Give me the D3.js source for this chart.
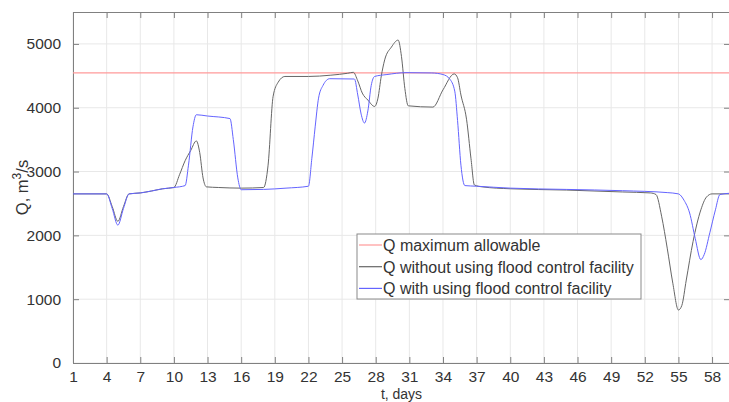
<!DOCTYPE html>
<html>
<head>
<meta charset="utf-8">
<script src="https://cdn.jsdelivr.net/npm/d3@7"></script>
<style>
  body { margin: 0; background: #fff; }
  svg { display: block; font-family: "Liberation Sans", Arial, sans-serif; }
</style>
</head>
<body>
<div class="flow-chart"></div>
<script>
// Discharge data (day, m3/s)
const qMaxAllowable = 4545;

const daysWithout = [1, 4, 4.5, 5, 5.5, 6, 7, 8, 9, 10, 10.5, 11, 11.5, 12, 12.3, 12.6, 12.9, 14, 16, 18,
  18.4, 18.85, 19.3, 19.9, 22, 24, 25.5, 26, 26.4, 26.8, 27.3, 27.9, 28.2, 28.5, 28.8, 29.4, 30, 30.3, 30.6, 30.9,
  33.1, 34, 35, 35.3, 35.6, 36.1, 36.5, 36.8, 37.5, 40, 45, 50, 52.5, 53, 53.5, 54, 54.5, 55, 55.3, 55.7,
  56.3, 57, 57.5, 58, 59.6];
const qWithout = [2650, 2650, 2450, 2220, 2450, 2650, 2665, 2695, 2730, 2750, 2950, 3170, 3330, 3480, 3300, 2900, 2760, 2750, 2740, 2750,
  3100, 4180, 4400, 4490, 4490, 4510, 4540, 4555, 4420, 4230, 4120, 4020, 4150, 4500, 4750, 4950, 5060, 4800, 4300, 4030,
  4010, 4280, 4530, 4470, 4200, 3820, 3200, 2790, 2760, 2730, 2710, 2680, 2665, 2640, 2300, 1800, 1250, 830, 900, 1300,
  1900, 2400, 2600, 2650, 2650];

const daysWith = [1, 4, 4.5, 5, 5.5, 6, 7, 8, 9, 10, 11, 11.3, 11.7, 12, 13, 15, 15.3, 15.7, 16, 18,
  20, 22, 22.3, 22.6, 22.9, 23.3, 23.9, 26.1, 26.4, 26.7, 27, 27.3, 27.6, 27.9, 29, 30.7, 33, 34, 34.6, 35.05,
  35.3, 35.6, 35.95, 37, 40, 45, 50, 54, 55, 55.5, 56, 56.5, 57, 57.3, 57.8, 58.3, 58.7, 59.6];
const qWith = [2650, 2650, 2420, 2160, 2420, 2650, 2665, 2695, 2730, 2750, 2780, 3100, 3700, 3890, 3870, 3830, 3500, 2900, 2715, 2720,
  2740, 2770, 3200, 3700, 4150, 4350, 4455, 4450, 4200, 3900, 3760, 3950, 4350, 4490, 4520, 4550, 4545, 4520, 4450, 4260,
  3800, 3100, 2780, 2770, 2740, 2720, 2700, 2670, 2650, 2550, 2350, 1950, 1620, 1700, 2040, 2400, 2640, 2660];

const xTicks = d3.range(1, 59, 3);
const yTicks = [0, 1000, 2000, 3000, 4000, 5000];

const legendLabels = ['Q maximum allowable', 'Q without using flood control facility', 'Q with using flood control facility'];
const seriesColors = ['#ff9a9a', '#666666', '#6464ff'];

const width = 729;
const height = 402;
const margin = { left: 73, top: 12, right: 730, bottom: 363 };

const svg = d3.select('.flow-chart')
  .append('svg')
  .attr('width', width)
  .attr('height', height);

const xScale = d3.scaleLinear().domain([1, 59.6]).range([margin.left, margin.right]);
const yScale = d3.scaleLinear().domain([0, 5500]).range([margin.bottom, margin.top]);

svg.append('defs').append('clipPath').attr('id', 'plot-clip')
  .append('rect')
  .attr('x', margin.left).attr('y', margin.top)
  .attr('width', margin.right - margin.left).attr('height', margin.bottom - margin.top);

// grid
svg.append('g')
  .selectAll('line')
  .data(xTicks)
  .enter().append('line')
  .attr('x1', d => xScale(d)).attr('x2', d => xScale(d))
  .attr('y1', margin.top).attr('y2', margin.bottom)
  .attr('stroke', '#e8e8e8');

svg.append('g')
  .selectAll('line')
  .data(yTicks)
  .enter().append('line')
  .attr('x1', margin.left).attr('x2', margin.right)
  .attr('y1', d => yScale(d)).attr('y2', d => yScale(d))
  .attr('stroke', '#e8e8e8');

// axes (ticks inside, box on all sides)
const axisColor = '#808080';
const tickSize = 6;

svg.append('g')
  .attr('transform', `translate(0, ${margin.bottom})`)
  .call(d3.axisBottom(xScale).tickValues(xTicks).tickSizeInner(-tickSize).tickSizeOuter(0).tickPadding(8));

svg.append('g')
  .attr('transform', `translate(${margin.left}, 0)`)
  .call(d3.axisLeft(yScale).tickValues(yTicks).tickFormat(d3.format('d')).tickSizeInner(-tickSize).tickSizeOuter(0).tickPadding(12));

svg.append('g')
  .attr('transform', `translate(0, ${margin.top})`)
  .call(d3.axisTop(xScale).tickValues(xTicks).tickSizeInner(-tickSize).tickSizeOuter(0).tickFormat(''));

svg.append('g')
  .attr('transform', `translate(${margin.right}, 0)`)
  .call(d3.axisRight(yScale).tickValues(yTicks).tickSizeInner(-tickSize).tickSizeOuter(0).tickFormat(''));

svg.selectAll('.domain').attr('stroke', axisColor);
svg.selectAll('.tick line').attr('stroke', axisColor);
svg.selectAll('.tick text')
  .attr('fill', '#333')
  .style('font-size', '15.5px')
  .style('font-family', '"Liberation Sans", Arial, sans-serif');

// axis titles
svg.append('text')
  .attr('x', (margin.left + margin.right) / 2)
  .attr('y', 399)
  .attr('text-anchor', 'middle')
  .attr('fill', '#333')
  .style('font-size', '14px')
  .text('t, days');

const yLabel = svg.append('text')
  .attr('transform', `translate(28, ${(margin.top + margin.bottom) / 2}) rotate(-90)`)
  .attr('text-anchor', 'middle')
  .attr('fill', '#333')
  .style('font-size', '16.5px');
yLabel.append('tspan').text('Q, m');
yLabel.append('tspan').attr('dy', -7).style('font-size', '12px').text('3');
yLabel.append('tspan').attr('dy', 7).text('/s');

// lines
const plot = svg.append('g').attr('clip-path', 'url(#plot-clip)');

plot.append('line')
  .attr('x1', margin.left).attr('x2', margin.right)
  .attr('y1', yScale(qMaxAllowable)).attr('y2', yScale(qMaxAllowable))
  .attr('stroke', seriesColors[0])
  .attr('stroke-width', 1.2);

const line = d3.line()
  .x(d => xScale(d[0]))
  .y(d => yScale(d[1]))
  .curve(d3.curveMonotoneX);

plot.append('path')
  .datum(d3.zip(daysWithout, qWithout))
  .attr('d', line)
  .attr('fill', 'none')
  .attr('stroke', seriesColors[1])
  .attr('stroke-width', 1);

plot.append('path')
  .datum(d3.zip(daysWith, qWith))
  .attr('d', line)
  .attr('fill', 'none')
  .attr('stroke', seriesColors[2])
  .attr('stroke-width', 1);

// legend
const legend = svg.append('g').attr('transform', 'translate(357, 234)');
legend.append('rect')
  .attr('width', 284).attr('height', 65)
  .attr('fill', '#fff')
  .attr('stroke', '#8a8a8a');

legendLabels.forEach((label, i) => {
  const rowY = 11 + i * 21.7;
  legend.append('line')
    .attr('x1', 2).attr('x2', 25)
    .attr('y1', rowY).attr('y2', rowY)
    .attr('stroke', seriesColors[i])
    .attr('stroke-width', 1.2);
  legend.append('text')
    .attr('x', 26)
    .attr('y', rowY + 6)
    .attr('fill', '#333')
    .style('font-size', '16px')
    .text(label);
});
</script>
</body>
</html>
